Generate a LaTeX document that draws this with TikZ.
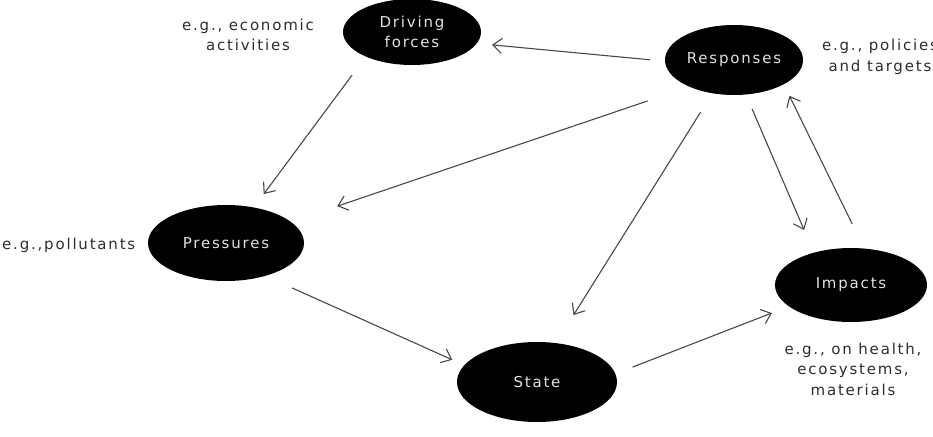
\documentclass[tikz,border=0pt]{standalone}
\usepackage{fontspec}
\usetikzlibrary{shapes.geometric,arrows.meta}
\newfontfamily\diagfont[LetterSpace=12]{DejaVu Sans}
\definecolor{linegray}{RGB}{72,72,72}
\definecolor{notetext}{RGB}{45,45,45}
\definecolor{stagetext}{RGB}{225,225,225}
\tikzset{
  stage/.style={ellipse, fill=black, inner sep=0pt, outer sep=0pt,
    text=stagetext, align=center, font=\diagfont\fontsize{15}{20}\selectfont},
  note/.style={inner sep=0pt, text=notetext, align=center,
    font=\diagfont\fontsize{15}{20.5}\selectfont},
  flow/.style={draw=linegray, line width=1.1pt,
    -{Straight Barb[length=9pt,width=15pt]}}
}
\begin{document}
\begin{tikzpicture}[x=1pt,y=-1pt]
\useasboundingbox (0,0) rectangle (933,436);

% the five stages of the cycle
\node[stage, minimum width=138pt, minimum height=66pt] (D) at (412,32) {Driving\\forces};
\node[stage, minimum width=138pt, minimum height=70pt] (R) at (734,60) {Responses};
\node[stage, minimum width=156pt, minimum height=76pt] (P) at (226,243) {Pressures};
\node[stage, minimum width=160pt, minimum height=80pt] (S) at (537,382) {State};
\node[stage, minimum width=152pt, minimum height=74pt] (I) at (851,285) {Impacts};

% examples beside each stage
\node[note] (nD) at (248,35) {e.g., economic\\activities};
\node[note] (nR) at (880,57) {e.g., policies\\and targets};
\node[note, anchor=west] (nP) at (2,245) {e.g.,pollutants};
\node[note] (nI) at (853,369) {e.g., on health,\\ecosystems,\\materials};

% links between the stages
\draw[flow, shorten <=15.2pt, shorten >=15.4pt] (R.181.2) -- (D.-10.1);
\draw[flow, shorten <=23.1pt, shorten >=16.7pt] (D.-152) -- (P.52.9);
\draw[flow, shorten <=44.1pt, shorten >=48.9pt] (R.211.3) -- (P.18.3);
\draw[flow, shorten <=22.3pt, shorten >=33.1pt] (R.-123.8) -- (S.64.7);
\draw[flow, shorten <=15.8pt, shorten >=24.8pt] (R.-71.2) -- (I.139.1);
\draw[flow, shorten <=27.4pt, shorten >=12.8pt] (I.70.3) -- (R.-26.4);
\draw[flow, shorten <=29.5pt, shorten >=13.3pt] (P.-40.1) -- (S.167.2);
\draw[flow, shorten <=18.5pt, shorten >=18.3pt] (S.6.9) -- (I.199.2);
\end{tikzpicture}
\end{document}
